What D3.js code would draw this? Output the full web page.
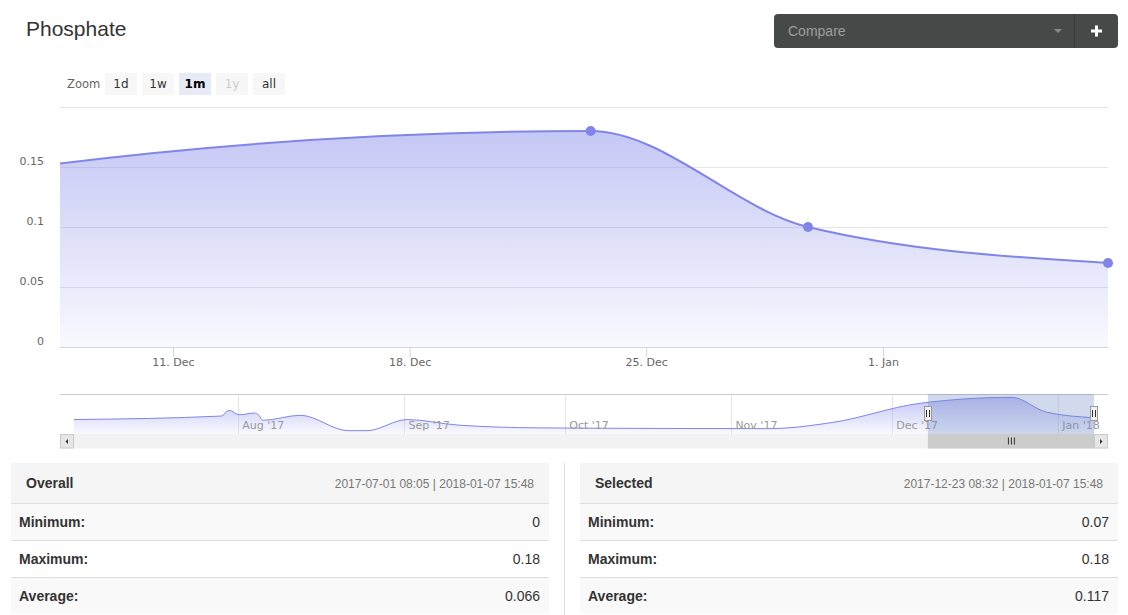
<!DOCTYPE html>
<html><head><meta charset="utf-8">
<script src="https://cdn.jsdelivr.net/npm/d3@7"></script>
<style>body{margin:0;background:#fff;}svg{display:block;}</style>
</head><body>
<svg id="c" width="1128" height="615"></svg>
<script>
// ---------- data ----------
const title = "Phosphate";
const dates = ["2017-07-01T08:05","2017-07-28T20:00","2017-07-30T06:00","2017-08-01T04:00","2017-08-04T00:00",
  "2017-08-04T18:00","2017-08-05T14:00","2017-08-12T14:00","2017-08-21T12:00","2017-08-25T00:00",
  "2017-09-01T12:00","2017-09-11T00:00","2017-09-26T00:00","2017-10-20T00:00","2017-11-08T00:00",
  "2017-11-20T00:00","2017-12-06T00:00","2017-12-23T08:32","2017-12-29T18:50","2018-01-07T15:48"];
const values = [0.06,0.079,0.11,0.086,0.095,0.086,0.056,0.083,0.0,0.0,
  0.06,0.03,0.015,0.012,0.011,0.045,0.147,0.18,0.1,0.07];
const selectedRange = ["2017-12-07T15:48","2018-01-07T15:48"];
const xTickDates = ["2017-12-11T00:00","2017-12-18T00:00","2017-12-25T00:00","2018-01-01T00:00"];
const xTickLabels = ["11. Dec","18. Dec","25. Dec","1. Jan"];
const yTicks = [0,0.05,0.1,0.15,0.2];
const yTickLabels = ["0","0.05","0.1","0.15",""];
const navTickDates = ["2017-08-01T00:00","2017-09-01T00:00","2017-10-01T00:00","2017-11-01T00:00","2017-12-01T00:00","2018-01-01T00:00"];
const navTickLabels = ["Aug '17","Sep '17","Oct '17","Nov '17","Dec '17","Jan '18"];
const zoomButtons = ["1d","1w","1m","1y","all"];
const zoomState = ["normal","normal","selected","disabled","normal"];
const statLabels = ["Minimum:","Maximum:","Average:"];
const overallStats = ["0","0.18","0.066"];
const selectedStats = ["0.07","0.18","0.117"];
const panelTitles = ["Overall","Selected"];
const panelRanges = ["2017-07-01 08:05 | 2018-01-07 15:48","2017-12-23 08:32 | 2018-01-07 15:48"];
const compareLabel = "Compare";

// ---------- setup ----------
const parse = d3.timeParse("%Y-%m-%dT%H:%M");
const data = dates.map((d,i)=>({date:parse(d), value:values[i]}));
const svg = d3.select("#c");
const COLOR = "#8085e9";
const AX = "DejaVu Sans, sans-serif";
const UI = "Liberation Sans, Arial, sans-serif";

svg.append("rect").attr("width",1128).attr("height",615).attr("fill","#fff");
const defs = svg.append("defs");
function grad(id,y1,y2,o1,o2){
  const g = defs.append("linearGradient").attr("id",id).attr("gradientUnits","userSpaceOnUse")
    .attr("x1",0).attr("x2",0).attr("y1",y1).attr("y2",y2);
  g.append("stop").attr("offset",0).attr("stop-color",COLOR).attr("stop-opacity",o1);
  g.append("stop").attr("offset",1).attr("stop-color",COLOR).attr("stop-opacity",o2);
}
grad("gMain",107,347,0.5,0.05);
grad("gNav",394,434,0.5,0.05);

// ---------- title ----------
svg.append("text").attr("x",26).attr("y",36).attr("font-family",UI).attr("font-size",21)
  .attr("fill","#333").text(title);

// ---------- compare box ----------
svg.append("rect").attr("x",774).attr("y",14).attr("width",344).attr("height",34).attr("rx",4).attr("fill","#474948");
svg.append("line").attr("x1",1074.5).attr("x2",1074.5).attr("y1",14).attr("y2",48).attr("stroke","#3a3a3a");
svg.append("text").attr("x",788).attr("y",36).attr("font-family",UI).attr("font-size",14).attr("fill","#9d9d9d").text(compareLabel);
svg.append("path").attr("d","M1054,29L1062,29L1058,33Z").attr("fill","#8a8a8a");
svg.append("rect").attr("x",1091).attr("y",29.5).attr("width",11).attr("height",3).attr("fill","#fff");
svg.append("rect").attr("x",1095).attr("y",25.5).attr("width",3).attr("height",11).attr("fill","#fff");

// ---------- range selector ----------
svg.append("text").attr("x",67).attr("y",88).attr("font-family",AX).attr("font-size",11.5).attr("fill","#666").text("Zoom");
const btn = svg.append("g").selectAll("g").data(zoomButtons).join("g")
  .attr("transform",(d,i)=>`translate(${105+i*37},73)`);
btn.append("rect").attr("width",32).attr("height",22)
  .attr("fill",(d,i)=>zoomState[i]==="selected"?"#e6ebf5":"#f7f7f7");
btn.append("text").attr("x",16).attr("y",15).attr("text-anchor","middle").attr("font-family",AX).attr("font-size",12)
  .attr("font-weight",(d,i)=>zoomState[i]==="selected"?"bold":"normal")
  .attr("fill",(d,i)=>zoomState[i]==="selected"?"#000":zoomState[i]==="disabled"?"#ccc":"#333")
  .text(d=>d);

// ---------- main chart ----------
const x = d3.scaleTime().domain(selectedRange.map(parse)).range([60,1108]);
const y = d3.scaleLinear().domain([0,0.2]).range([347,107]);

svg.append("g").selectAll("line").data(yTicks.filter(t=>t>0)).join("line")
  .attr("x1",60).attr("x2",1108).attr("y1",d=>y(d)+0.5).attr("y2",d=>y(d)+0.5).attr("stroke","#e6e6e6");

const yAxis = svg.append("g").attr("transform","translate(44,0)")
  .call(d3.axisLeft(y).tickValues(yTicks).tickFormat((d,i)=>yTickLabels[i]).tickSize(0).tickPadding(0));
yAxis.select(".domain").remove();
yAxis.selectAll("text").attr("font-family",AX).attr("font-size",11).attr("fill","#666")
  .attr("x",0).attr("dy",0).attr("y",-2.5);

defs.append("clipPath").attr("id","clipMain").append("rect").attr("x",60).attr("y",90).attr("width",1048).attr("height",257);
const plot = svg.append("g").attr("clip-path","url(#clipMain)");
plot.append("path").datum(data)
  .attr("d",d3.area().x(d=>x(d.date)).y0(y(0)).y1(d=>y(d.value)).curve(d3.curveMonotoneX))
  .attr("fill","url(#gMain)");
plot.append("path").datum(data)
  .attr("d",d3.line().x(d=>x(d.date)).y(d=>y(d.value)).curve(d3.curveMonotoneX))
  .attr("fill","none").attr("stroke",COLOR).attr("stroke-width",2);
const dom = x.domain();
svg.append("g").selectAll("circle").data(data.filter(d=>d.date>=dom[0]&&d.date<=dom[1])).join("circle")
  .attr("cx",d=>x(d.date)).attr("cy",d=>y(d.value)).attr("r",5).attr("fill",COLOR);

const xAxis = svg.append("g").attr("transform","translate(0,347)")
  .call(d3.axisBottom(x).tickValues(xTickDates.map(parse)).tickFormat((d,i)=>xTickLabels[i]).tickSizeOuter(0).tickSizeInner(10));
xAxis.select(".domain").attr("stroke","#ccd6eb").attr("d","M60,0.5H1108");
xAxis.selectAll(".tick line").attr("stroke","#ccd6eb");
xAxis.selectAll("text").attr("font-family",AX).attr("font-size",11).attr("fill","#666").attr("y",19).attr("dy",0);

// ---------- navigator ----------
const nx = d3.scaleTime().domain([data[0].date,data[data.length-1].date]).range([74,1094]);
const ny = d3.scaleLinear().domain([-0.018,0.198]).range([434,394]);
svg.append("g").selectAll("line").data(navTickDates.map(parse)).join("line")
  .attr("x1",d=>Math.round(nx(d))+0.5).attr("x2",d=>Math.round(nx(d))+0.5).attr("y1",394).attr("y2",434).attr("stroke","#e6e6e6");
svg.append("path").datum(data)
  .attr("d",d3.area().x(d=>nx(d.date)).y0(434).y1(d=>ny(d.value)).curve(d3.curveMonotoneX))
  .attr("fill","url(#gNav)");
svg.append("path").datum(data)
  .attr("d",d3.line().x(d=>nx(d.date)).y(d=>ny(d.value)).curve(d3.curveMonotoneX))
  .attr("fill","none").attr("stroke",COLOR).attr("stroke-width",1);
svg.append("g").selectAll("text").data(navTickDates.map(parse)).join("text")
  .attr("x",d=>nx(d)+4).attr("y",429).attr("font-family",AX).attr("font-size",11).attr("fill","#999")
  .text((d,i)=>navTickLabels[i]);
svg.append("line").attr("x1",60).attr("x2",1108).attr("y1",394.5).attr("y2",394.5).attr("stroke","#ccc");
const s0 = nx(parse(selectedRange[0])), s1 = nx(parse(selectedRange[1]));
svg.append("rect").attr("x",s0).attr("y",394).attr("width",s1-s0).attr("height",40).attr("fill","rgba(102,133,194,0.3)");

// scrollbar
svg.append("rect").attr("x",60).attr("y",434).attr("width",1048).attr("height",14.5).attr("fill","#f2f2f2");
svg.append("rect").attr("x",s0).attr("y",434).attr("width",s1-s0).attr("height",14.5).attr("fill","#cccccc");
const cx = (s0+s1)/2;
[-3,0,3].forEach(o=>svg.append("line").attr("x1",cx+o+0.5).attr("x2",cx+o+0.5).attr("y1",437.5).attr("y2",444.5).attr("stroke","#333"));
svg.append("rect").attr("x",60.5).attr("y",434.5).attr("width",13).attr("height",13.5).attr("fill","#e6e6e6").attr("stroke","#ccc");
svg.append("rect").attr("x",1094.5).attr("y",434.5).attr("width",13).attr("height",13.5).attr("fill","#e6e6e6").attr("stroke","#ccc");
svg.append("path").attr("d","M65.5,441.5L68,439L68,444Z").attr("fill","#333");
svg.append("path").attr("d","M1102.5,441.5L1100,439L1100,444Z").attr("fill","#333");

// handles
[s0,s1].forEach(h=>{
  const hx = Math.round(h);
  svg.append("rect").attr("x",hx-3.5).attr("y",406.5).attr("width",7).attr("height",14).attr("fill","#f2f2f2").attr("stroke","#999");
  svg.append("line").attr("x1",hx-1.5).attr("x2",hx-1.5).attr("y1",410).attr("y2",417).attr("stroke","#333");
  svg.append("line").attr("x1",hx+1.5).attr("x2",hx+1.5).attr("y1",410).attr("y2",417).attr("stroke","#333");
});

// ---------- stats tables ----------
const panels = [{x0:11,x1:549,vals:overallStats},{x0:580,x1:1118,vals:selectedStats}];
const rowFill = ["#f9f9f9","#ffffff","#f9f9f9"];
panels.forEach((p,pi)=>{
  const g = svg.append("g");
  g.append("rect").attr("x",p.x0).attr("y",463).attr("width",p.x1-p.x0).attr("height",40).attr("fill","#f5f5f5");
  g.append("text").attr("x",p.x0+15).attr("y",488).attr("font-family",UI).attr("font-size",14).attr("font-weight","bold")
    .attr("fill","#333").text(panelTitles[pi]);
  g.append("text").attr("x",p.x1-15).attr("y",488).attr("text-anchor","end").attr("font-family",UI).attr("font-size",12)
    .attr("fill","#777").text(panelRanges[pi]);
  statLabels.forEach((lab,i)=>{
    const top = 503+i*37;
    g.append("rect").attr("x",p.x0).attr("y",top).attr("width",p.x1-p.x0).attr("height",37).attr("fill",rowFill[i]);
    g.append("line").attr("x1",p.x0).attr("x2",p.x1).attr("y1",top+0.5).attr("y2",top+0.5).attr("stroke","#ddd");
    g.append("text").attr("x",p.x0+8).attr("y",top+24).attr("font-family",UI).attr("font-size",14).attr("font-weight","bold")
      .attr("fill","#333").text(lab);
    g.append("text").attr("x",p.x1-9).attr("y",top+24).attr("text-anchor","end").attr("font-family",UI).attr("font-size",14)
      .attr("fill","#333").text(p.vals[i]);
  });
});
svg.append("line").attr("x1",564.5).attr("x2",564.5).attr("y1",463).attr("y2",615).attr("stroke","#ddd");
</script>
</body></html>
